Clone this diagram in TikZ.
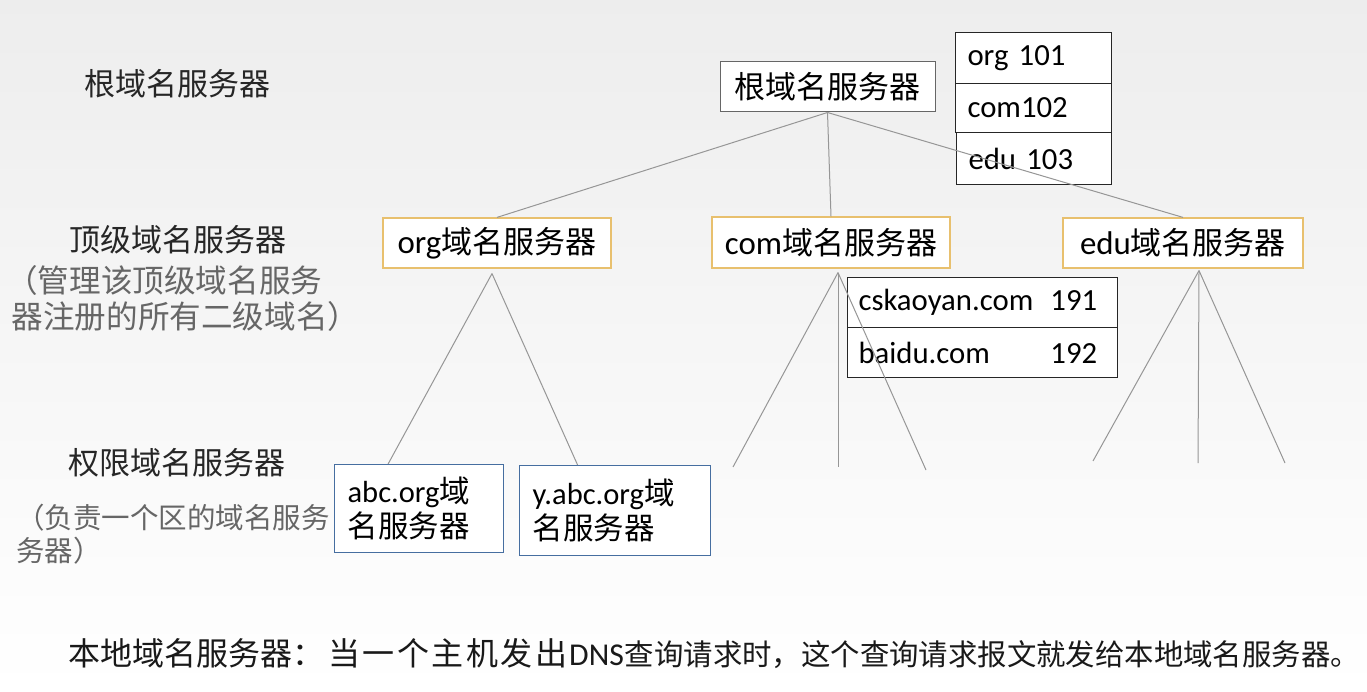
\documentclass[tikz,border=0pt]{standalone}
\usepackage{fontspec}
\setmainfont{Carlito}[Scale=1.06]
\newfontfamily\cjk{Noto Sans CJK SC}
\newcommand\cj[1]{{\cjk #1}}
\newcommand\fs[1]{\fontsize{#1}{#1}\selectfont}
\definecolor{goldline}{RGB}{232,192,110}
\definecolor{blueline}{RGB}{70,110,160}
\definecolor{edgegray}{RGB}{150,150,150}
\begin{document}
\begin{tikzpicture}[x=1pt,y=-1pt,
  lbl/.style={font=\fontsize{31}{36}\selectfont, text=black!85, inner sep=0pt},
  sublbl/.style={text=black!60, inner sep=0pt, anchor=base west},
  rootbox/.style={draw=black!60, fill=white, line width=1pt, inner sep=0pt,
    font=\fontsize{31}{36}\selectfont},
  tldbox/.style={draw=goldline, fill=white, line width=1.2pt, inner sep=0pt,
    font=\fontsize{31}{36}\selectfont},
  authbox/.style={draw=blueline, fill=white, line width=1.2pt, inner xsep=13pt, inner ysep=0pt,
    align=left, anchor=north west, font=\fontsize{30.5}{35}\selectfont},
  cell/.style={draw=black!85, fill=white, line width=1pt, inner ysep=0pt, align=left,
    anchor=north west, font=\fontsize{29}{34}\selectfont},
  edge/.style={draw=edgegray, line width=1pt}]
\shade[top color=black!7, bottom color=white] (0,0) rectangle (1367,692);
\useasboundingbox (0,0) rectangle (1367,692);

% left labels
\node[lbl] (lroot) at (177,84) {\cj{根域名服务器}};
\node[lbl] (ltld) at (178,240) {\cj{顶级域名服务器}};
\node[sublbl, font=\fontsize{31.6}{36}\selectfont] (ltldA) at (6,293) {\cj{（管理该顶级域名服务}};
\node[sublbl, font=\fontsize{31.6}{36}\selectfont] (ltldB) at (11.5,329) {\cj{器注册的所有二级域名）}};
\node[lbl] (lauth) at (177,463) {\cj{权限域名服务器}};
\node[sublbl, font=\fontsize{28.5}{34}\selectfont] (lauthA) at (16,528) {\cj{（负责一个区的域名服务}};
\node[sublbl, font=\fontsize{28.5}{34}\selectfont] (lauthB) at (16,561) {\cj{务器）}};

% root server and its table
\node[rootbox, minimum width=215pt, minimum height=50pt] (root) at (827.5,87) {\cj{根域名服务器}};
\node[cell, minimum width=156pt, minimum height=51pt, inner xsep=12pt, text width=132pt] (t1) at (955,32) {org 101};
\node[cell, minimum width=156pt, minimum height=49pt, inner xsep=12pt, text width=132pt] (t2) at (955,83) {com102};
\node[cell, minimum width=155pt, minimum height=52pt, inner xsep=12pt, text width=131pt] (t3) at (956,132) {edu 103};

% top-level servers
\node[tldbox, minimum width=228pt, minimum height=50pt] (org) at (497,243) {org\cj{域名服务器}};
\node[tldbox, minimum width=238pt, minimum height=51pt] (com) at (831,242.5) {com\cj{域名服务器}};
\node[tldbox, minimum width=240pt, minimum height=50pt] (edu) at (1183,243) {edu\cj{域名服务器}};

% com table
\node[cell, minimum width=270pt, minimum height=50pt, inner xsep=11pt, text width=248pt] (c1) at (847,277) {\makebox[192pt][l]{cskaoyan.com}191};
\node[cell, minimum width=270pt, minimum height=50pt, inner xsep=11pt, text width=248pt] (c2) at (847,327) {\makebox[192pt][l]{baidu.com}192};

% authoritative servers
\node[authbox, minimum width=169pt, minimum height=88pt, text width=143pt] (abc) at (334,464) {{\fs{28.8}abc.org}\cj{域}\\\cj{名服务器}};
\node[authbox, minimum width=191pt, minimum height=90pt, text width=165pt] (yabc) at (519,465) {{\fs{28.8}y.abc.org}\cj{域}\\\cj{名服务器}};

% free ends of the unnamed subtrees
\coordinate (cL) at (733,467);
\coordinate (cM) at (838,467);
\coordinate (cR) at (926,470);
\coordinate (eL) at (1093,461);
\coordinate (eM) at (1198,463);
\coordinate (eR) at (1285,463);

% connectors
\draw[edge] (root.south) -- (org.north);
\draw[edge] (root.south) -- (com.north);
\draw[edge] (root.south) -- (edu.north);
\draw[edge] ([xshift=-5pt,yshift=-5pt]org.south) -- ([xshift=-31pt]abc.north);
\draw[edge] ([xshift=-5pt,yshift=-5pt]org.south) -- ([xshift=-37.5pt]yabc.north);
\draw[edge] ([xshift=7pt,yshift=-4pt]com.south) -- (cL);
\draw[edge] ([xshift=7pt,yshift=-4pt]com.south) -- (cM);
\draw[edge] ([xshift=7pt,yshift=-4pt]com.south) -- (cR);
\draw[edge] ([xshift=16pt,yshift=-2pt]edu.south) -- (eL);
\draw[edge] ([xshift=16pt,yshift=-2pt]edu.south) -- (eM);
\draw[edge] ([xshift=16pt,yshift=-2pt]edu.south) -- (eR);

% bottom note
\node[anchor=base west, inner sep=0pt, text=black!90] (note) at (68,665)
  {{\fs{32}\cj{本地域名服务器：}}\kern4pt{\fs{32}\cj{当}\kern2.5pt\cj{一}\kern2.5pt\cj{个}\kern2.5pt\cj{主}\kern2.5pt\cj{机}\kern2.5pt\cj{发}\kern2.5pt\cj{出}}\kern2pt{\fs{30}DNS}\kern1pt{\fs{29.4}\cj{查询请求时，这个查询请求报文就发给本地域名服务器。}}};
\end{tikzpicture}
\end{document}
